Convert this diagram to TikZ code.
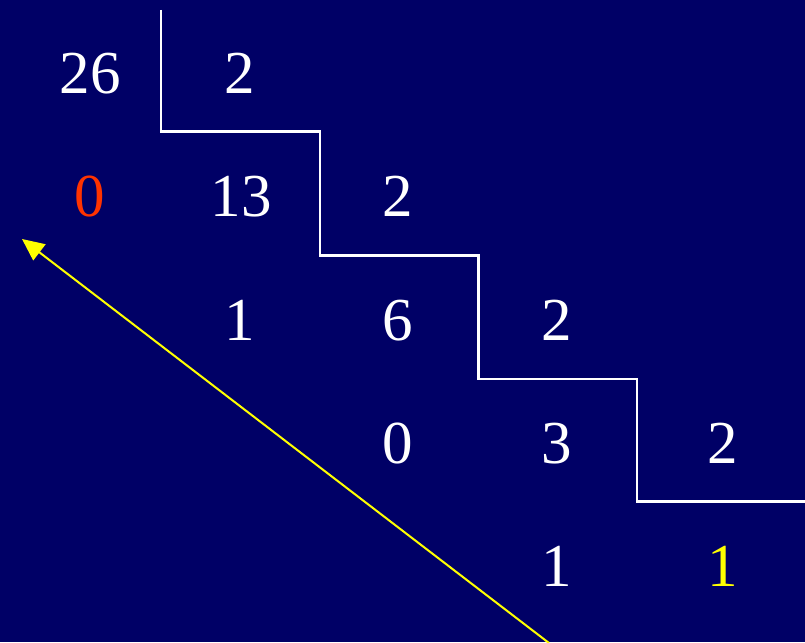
\documentclass[tikz,border=0pt]{standalone}
\usepackage{fontspec}
\setmainfont{Liberation Serif}
\usetikzlibrary{arrows.meta}
\definecolor{bg}{HTML}{000066}
\definecolor{redd}{HTML}{FF3300}
\definecolor{yel}{HTML}{FFFF00}
\begin{document}
\begin{tikzpicture}[x=1pt,y=-1pt,
  num/.style={anchor=base,inner sep=0pt,text=white,font=\fontsize{61}{61}\selectfont},
  stair/.style={draw=white,line width=2.6pt},
  arr/.style={draw=yel,line width=2pt,-{Triangle[length=22pt,width=20pt]}}]
\fill[bg] (0,0) rectangle (805,642);
\useasboundingbox (0,0) rectangle (805,642);
% row 1
\node[num] (a26) at (90,93) {26};
\node[num] (a2) at (240,93) {2};
% row 2
\node[num,text=redd] (b0) at (90,216) {0};
\node[num] (b13) at (241,216) {13};
\node[num] (b2) at (398,216) {2};
% row 3
\node[num] (c1) at (240,340) {1};
\node[num] (c6) at (398,340) {6};
\node[num] (c2) at (557,340) {2};
% row 4
\node[num] (d0) at (398,463) {0};
\node[num] (d3) at (557,463) {3};
\node[num] (d2) at (723,463) {2};
% row 5
\node[num] (e1) at (557,586) {1};
\node[num,text=yel] (e1y) at (723,586) {1};
% staircase
\draw[stair] (161,10) -- (161,131.5) -- (320,131.5) -- (320,255.5) -- (478.5,255.5) -- (478.5,379) -- (637,379) -- (637,501.5) -- (806,501.5);
% arrow
\coordinate (s) at (549,643);
\coordinate (t) at (22,239);
\begin{scope}
\clip (0,0) rectangle (805,642);
\draw[arr] (s) -- (t);
\end{scope}
\end{tikzpicture}
\end{document}
